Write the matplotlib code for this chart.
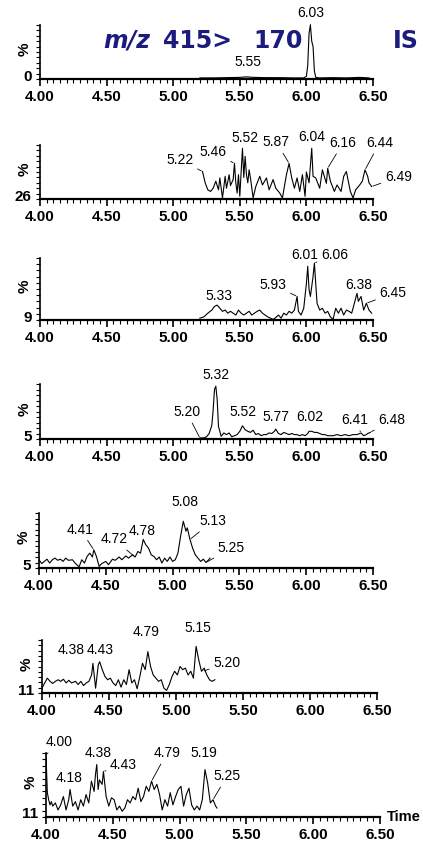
import numpy as np
import matplotlib
matplotlib.use('Agg')
import matplotlib.pyplot as plt
from matplotlib.ticker import MultipleLocator, FixedLocator

# ---- data: retention time (min) and relative intensity (%) per trace ----
t1 = [5.20, 5.30, 5.40, 5.50, 5.55, 5.60, 5.70, 5.80, 5.90, 5.98, 6.00, 6.01, 6.02,
      6.03, 6.04, 6.05, 6.06, 6.07, 6.10, 6.20, 6.30, 6.40, 6.47]
y1 = [2, 2, 2.5, 3, 4, 3, 2.5, 2.5, 2, 2, 5, 25, 85, 100, 70, 60, 15, 3, 2, 2.5, 2, 3, 2]

t2 = [5.22, 5.24, 5.26, 5.28, 5.30, 5.32, 5.34, 5.35, 5.37, 5.39, 5.40, 5.42, 5.43, 5.45,
      5.46, 5.47, 5.48, 5.49, 5.50, 5.52, 5.53, 5.54, 5.55, 5.56, 5.57, 5.58, 5.60, 5.62,
      5.65, 5.67, 5.70, 5.72, 5.75, 5.77, 5.80, 5.82, 5.85, 5.87, 5.89, 5.91, 5.93, 5.95,
      5.97, 5.99, 6.00, 6.02, 6.04, 6.05, 6.07, 6.10, 6.12, 6.15, 6.16, 6.18, 6.21, 6.23,
      6.26, 6.28, 6.30, 6.33, 6.35, 6.37, 6.40, 6.42, 6.44, 6.46, 6.47, 6.49]
y2 = [51, 30, 17, 14, 20, 33, 17, 39, 2, 42, 20, 45, 25, 36, 66, 30, 11, 45, 5, 94, 40, 79,
      45, 30, 54, 39, 2, 23, 42, 26, 39, 17, 36, 20, 11, 2, 45, 66, 39, 20, 39, 14, 45, 5,
      50, 30, 94, 42, 39, 20, 54, 29, 57, 33, 14, 26, 14, 42, 51, 14, 2, 17, 26, 33, 54,
      42, 30, 23]

t3 = [5.20, 5.23, 5.26, 5.29, 5.31, 5.33, 5.35, 5.37, 5.39, 5.41, 5.43, 5.45, 5.47, 5.49,
      5.51, 5.53, 5.55, 5.57, 5.59, 5.61, 5.63, 5.65, 5.67, 5.69, 5.71, 5.73, 5.75, 5.77,
      5.79, 5.81, 5.83, 5.85, 5.87, 5.89, 5.91, 5.93, 5.94, 5.96, 5.98, 6.00, 6.01, 6.02,
      6.03, 6.04, 6.05, 6.06, 6.07, 6.08, 6.10, 6.12, 6.14, 6.16, 6.18, 6.20, 6.22, 6.24,
      6.26, 6.28, 6.30, 6.32, 6.34, 6.36, 6.38, 6.39, 6.41, 6.43, 6.45, 6.47, 6.49]
y3 = [3, 5, 11, 16, 22, 24, 19, 14, 16, 11, 14, 11, 8, 16, 11, 8, 11, 14, 8, 11, 14, 16, 11,
      8, 5, 3, 1, 4, 8, 3, 11, 8, 14, 11, 16, 38, 14, 8, 19, 59, 86, 49, 38, 54, 70, 92, 59,
      27, 16, 19, 11, 14, 5, 1, 19, 11, 19, 8, 16, 14, 11, 27, 43, 30, 38, 16, 27, 16, 11]

t4 = [5.20, 5.23, 5.25, 5.27, 5.29, 5.30, 5.31, 5.32, 5.33, 5.34, 5.36, 5.38, 5.40, 5.42,
      5.44, 5.46, 5.48, 5.50, 5.52, 5.54, 5.56, 5.58, 5.60, 5.62, 5.64, 5.66, 5.68, 5.70,
      5.72, 5.74, 5.76, 5.77, 5.79, 5.81, 5.83, 5.85, 5.87, 5.89, 5.91, 5.93, 5.95, 5.97,
      5.99, 6.01, 6.02, 6.04, 6.06, 6.08, 6.10, 6.12, 6.14, 6.16, 6.18, 6.20, 6.23, 6.26,
      6.29, 6.32, 6.35, 6.38, 6.40, 6.41, 6.43, 6.45, 6.46, 6.48]
y4 = [2, 2, 4, 10, 25, 53, 90, 96, 72, 23, 5, 11, 8, 11, 4, 6, 8, 14, 24, 17, 14, 12, 16, 8,
      10, 6, 8, 8, 11, 10, 14, 18, 10, 8, 12, 10, 8, 10, 8, 8, 6, 8, 6, 10, 14, 14, 12, 12,
      10, 8, 8, 6, 6, 6, 8, 6, 8, 6, 8, 8, 10, 11, 6, 8, 10, 12]

t5 = [4.00, 4.02, 4.04, 4.06, 4.08, 4.10, 4.12, 4.14, 4.16, 4.18, 4.20, 4.22, 4.25, 4.27,
      4.30, 4.32, 4.34, 4.36, 4.38, 4.40, 4.41, 4.43, 4.45, 4.47, 4.50, 4.52, 4.55, 4.57,
      4.60, 4.62, 4.65, 4.67, 4.70, 4.72, 4.74, 4.76, 4.78, 4.80, 4.82, 4.84, 4.86, 4.88,
      4.90, 4.92, 4.94, 4.96, 4.98, 5.00, 5.02, 5.04, 5.06, 5.08, 5.10, 5.11, 5.13, 5.15,
      5.17, 5.19, 5.21, 5.23, 5.25, 5.27, 5.28]
y5 = [15, 8, 12, 16, 9, 15, 18, 14, 16, 12, 18, 14, 15, 9, 2, 15, 9, 21, 27, 20, 33, 21, 3,
      8, 12, 6, 16, 14, 20, 15, 22, 18, 24, 20, 30, 27, 52, 42, 36, 24, 21, 15, 20, 9, 18,
      12, 20, 12, 15, 27, 58, 85, 67, 73, 52, 36, 24, 18, 12, 16, 10, 15, 18]

t6 = [4.00, 4.02, 4.04, 4.06, 4.08, 4.10, 4.12, 4.14, 4.16, 4.18, 4.20, 4.22, 4.25, 4.27,
      4.29, 4.31, 4.33, 4.35, 4.37, 4.38, 4.40, 4.42, 4.43, 4.45, 4.47, 4.49, 4.51, 4.53,
      4.55, 4.57, 4.59, 4.61, 4.63, 4.65, 4.67, 4.69, 4.71, 4.73, 4.75, 4.77, 4.79, 4.81,
      4.83, 4.85, 4.87, 4.89, 4.91, 4.93, 4.95, 4.97, 4.99, 5.01, 5.03, 5.05, 5.07, 5.09,
      5.11, 5.13, 5.15, 5.17, 5.19, 5.21, 5.23, 5.25, 5.27, 5.29]
y6 = [9, 19, 28, 22, 18, 22, 25, 22, 26, 19, 24, 19, 22, 16, 22, 14, 19, 22, 34, 56, 9, 53,
      59, 44, 31, 25, 28, 19, 14, 25, 11, 25, 16, 44, 19, 25, 8, 31, 56, 44, 78, 50, 34, 28,
      22, 25, 9, 5, 16, 31, 41, 34, 50, 44, 47, 34, 41, 28, 88, 62, 41, 47, 34, 25, 22, 25]

t7 = [4.00, 4.01, 4.02, 4.03, 4.04, 4.05, 4.07, 4.09, 4.11, 4.13, 4.15, 4.17, 4.18, 4.20,
      4.22, 4.24, 4.26, 4.28, 4.30, 4.32, 4.34, 4.36, 4.37, 4.38, 4.39, 4.40, 4.42, 4.43,
      4.45, 4.47, 4.49, 4.51, 4.53, 4.55, 4.57, 4.59, 4.61, 4.63, 4.65, 4.67, 4.69, 4.71,
      4.73, 4.75, 4.77, 4.79, 4.81, 4.83, 4.85, 4.87, 4.89, 4.91, 4.93, 4.95, 4.97, 4.99,
      5.01, 5.03, 5.05, 5.07, 5.09, 5.11, 5.13, 5.15, 5.17, 5.19, 5.21, 5.23, 5.25, 5.27,
      5.28]
y7 = [97, 38, 27, 19, 24, 17, 22, 11, 19, 32, 11, 27, 43, 17, 24, 11, 27, 17, 35, 22, 56,
      40, 66, 82, 43, 58, 51, 71, 32, 17, 30, 27, 11, 17, 9, 14, 27, 22, 32, 27, 45, 24, 32,
      48, 40, 56, 43, 51, 35, 11, 27, 17, 38, 19, 32, 43, 48, 17, 35, 45, 19, 11, 17, 11,
      27, 74, 53, 22, 27, 17, 14]

traces = [(t1, y1), (t2, y2), (t3, y3), (t4, y4), (t5, y5), (t6, y6), (t7, y7)]
offsets = ['0', '26', '9', '5', '5', '11', '11']   # intensity offsets shown on y-axis

# peak labels (retention times)
peaks = [
    ['6.03', '5.55'],
    ['5.22', '5.46', '5.52', '5.87', '6.04', '6.16', '6.44', '6.49'],
    ['5.33', '5.93', '6.01', '6.06', '6.38', '6.45'],
    ['5.32', '5.20', '5.52', '5.77', '6.02', '6.41', '6.48'],
    ['4.41', '4.72', '4.78', '5.08', '5.13', '5.25'],
    ['4.38', '4.43', '4.79', '5.15', '5.20'],
    ['4.00', '4.18', '4.38', '4.43', '4.79', '5.19', '5.25'],
]

# ---- layout (pixels) ----
W, H = 423, 849
boxes = [(40, 373, 25, 79), (40, 373, 145, 199), (40, 373, 258, 320), (40, 373, 384, 439),
         (39, 373, 513, 568), (42, 377, 640, 693), (46, 380, 753, 817)]
# label text position (time, %) and whether a leader line is drawn
label_pos = [
    [(6.03, 122, True), (5.56, 31, False)],
    [(5.05, 72, True), (5.30, 87, True), (5.54, 113, False), (5.775, 105, True),
     (6.04, 115, False), (6.275, 104, True), (6.55, 104, True), (6.69, 41, True)],
    [(5.34, 38, False), (5.75, 57, True), (5.99, 105, True), (6.21, 105, True),
     (6.39, 57, False), (6.65, 43, True)],
    [(5.325, 116, False), (5.10, 49, True), (5.525, 49, False), (5.775, 40, False),
     (6.025, 40, False), (6.36, 35, True), (6.64, 35, True)],
    [(4.31, 70, True), (4.56, 52, True), (4.775, 67, False), (5.09, 120, False),
     (5.30, 85, True), (5.44, 36, True)],
    [(4.22, 81, False), (4.435, 81, False), (4.78, 115, False), (5.16, 122, False),
     (5.38, 56, True)],
    [(4.095, 117, True), (4.17, 61, False), (4.39, 100, False), (4.58, 82, True),
     (4.905, 100, True), (5.18, 100, False), (5.355, 64, True)],
]

plt.rcParams['font.family'] = ['Liberation Sans', 'DejaVu Sans']
navy = '#1c1c7e'

fig = plt.figure(figsize=(W / 100, H / 100), dpi=100)
fig.patch.set_facecolor('white')

for i, (t, y) in enumerate(traces):
    l, r, top, bot = boxes[i]
    ax = fig.add_axes([l / W, 1 - bot / H, (r - l) / W, (bot - top) / H])
    ax.plot(t, y, color='black', lw=0.8)
    ax.set_xlim(4.0, 6.5)
    ax.set_ylim(0, 100)
    for s in ['top', 'right']:
        ax.spines[s].set_visible(False)
    ax.spines['left'].set_linewidth(1.2)
    ax.spines['bottom'].set_linewidth(1.6)

    ax.xaxis.set_major_locator(FixedLocator([4.0, 4.5, 5.0, 5.5, 6.0, 6.5]))
    ax.xaxis.set_minor_locator(MultipleLocator(0.05))
    ax.set_xticklabels(['4.00', '4.50', '5.00', '5.50', '6.00', '6.50'])
    ax.tick_params(axis='x', which='major', direction='out', length=5, width=1.2,
                   pad=3, labelsize=11)
    ax.tick_params(axis='x', which='minor', direction='out', length=3, width=0.8)
    for lab in ax.get_xticklabels():
        lab.set_fontweight('bold')

    ax.yaxis.set_major_locator(MultipleLocator(10))
    ax.tick_params(axis='y', which='major', direction='out', length=3, width=0.8,
                   labelleft=False)

    # y offset value and % label
    ax.text(-0.025, 0.04, offsets[i], transform=ax.transAxes, ha='right', va='center',
            fontsize=11, fontweight='bold')
    ax.text(-0.045, 0.55, '%', transform=ax.transAxes, ha='center', va='center',
            rotation=90, fontsize=11, fontweight='bold')

    # peak labels
    ta = np.array(t)
    for txt, (tx, ty, lead) in zip(peaks[i], label_pos[i]):
        pk = float(txt)
        j = int(np.argmin(np.abs(ta - pk)))
        if lead:
            ax.annotate(txt, xy=(pk, y[j]), xytext=(tx, ty), textcoords='data',
                        ha='center', va='center', fontsize=10, annotation_clip=False,
                        arrowprops=dict(arrowstyle='-', lw=0.6, color='black',
                                        shrinkA=1, shrinkB=1))
        else:
            ax.text(tx, ty, txt, ha='center', va='center', fontsize=10, clip_on=False)

    if i == 6:
        ax.text(1.02, 0.0, 'Time', transform=ax.transAxes, ha='left', va='center',
                fontsize=10.5, fontweight='bold')

# title for the IS trace
ty_title = 1 - 41 / H
fig.text(103 / W, ty_title, 'm/z', fontsize=17, fontweight='bold', style='italic',
         color=navy, family='DejaVu Sans', ha='left', va='center')
fig.text(163 / W, ty_title, '415>', fontsize=17, fontweight='bold',
         color=navy, family='DejaVu Sans', ha='left', va='center')
fig.text(253 / W, ty_title, '170', fontsize=17, fontweight='bold',
         color=navy, family='DejaVu Sans', ha='left', va='center')
fig.text(393 / W, ty_title, 'IS', fontsize=17, fontweight='bold',
         color=navy, family='DejaVu Sans', ha='left', va='center')

fig.savefig('out.png', dpi=100)
